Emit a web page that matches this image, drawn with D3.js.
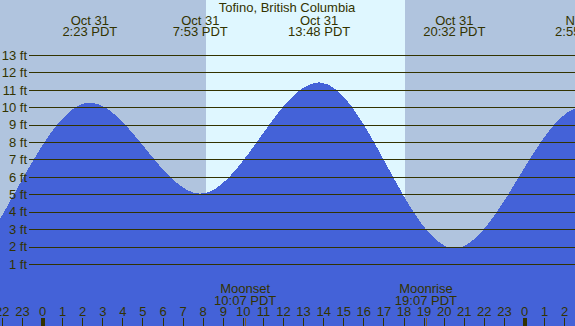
<!DOCTYPE html>
<html>
<head>
<meta charset="utf-8">
<script src="https://cdn.jsdelivr.net/npm/d3@7"></script>
<style>
  body { margin: 0; }
  svg { display: block; font-family: "Liberation Sans", Arial, sans-serif; }
</style>
</head>
<body>
<div id="chart"></div>
<script>
// tide extremes, hours from Oct 31 00:00 PDT, heights in ft
var tideTimes   = [-11.4, -5.0, 2.383, 7.883, 13.8, 20.533, 26.917, 33.2];
var tideHeights = [10.4, 0.1, 10.26, 5.04, 11.43, 1.9, 10.02, 4.8];

// header labels for the extremes that are on screen (index 2..6)
var eventDates = ["Oct 31", "Oct 31", "Oct 31", "Oct 31", "Nov 1"];
var eventTimes = ["2:23 PDT", "7:53 PDT", "13:48 PDT", "20:32 PDT", "2:55 PDT"];

// sun and moon
var sunrise = 8.167, sunset = 18.083;
var moonTimes = [10.117, 19.117];
var moonNames = ["Moonset", "Moonrise"];
var moonTimeLabels = ["10:07 PDT", "19:07 PDT"];

// axis ticks
var hourTicks = d3.range(-2, 27);
var feetTicks = d3.range(1, 14);

var width = 575, height = 326;
var ink = "#333300";

var svg = d3.select("#chart")
  .append("svg")
    .attr("width", width)
    .attr("height", height);

// hours -> px
var x = d3.scaleLinear()
  .domain([0, 24])
  .range([42, 524]);

// feet -> px
var y = d3.scaleLinear()
  .domain([0, 13])
  .range([281.4, 55]);

// night / day background
svg.append("rect")
  .attr("x", 0).attr("y", 0)
  .attr("width", width).attr("height", height)
  .attr("fill", "#b0c4de");
svg.append("rect")
  .attr("x", Math.round(x(sunrise))).attr("y", 0)
  .attr("width", Math.round(x(sunset)) - Math.round(x(sunrise)))
  .attr("height", height)
  .attr("fill", "#dff7ff");

// tide area
var tideData = tideTimes.map(function(t, i) { return {t: t, h: tideHeights[i]}; });
var area = d3.area()
  .x(function(d) { return x(d.t); })
  .y0(height)
  .y1(function(d) { return y(d.h); })
  .curve(d3.curveMonotoneX);
svg.append("path")
  .datum(tideData)
  .attr("d", area)
  .attr("fill", "#4462d8")
  .attr("shape-rendering", "crispEdges");

// feet gridlines + labels
var yAxis = svg.append("g")
  .attr("transform", "translate(29,0)")
  .call(d3.axisLeft(y)
    .tickValues(feetTicks)
    .tickSize(-(width - 29))
    .tickPadding(2)
    .tickFormat(function(d) { return d + " ft"; }));
yAxis.select(".domain").remove();
yAxis.selectAll("line").attr("stroke", ink).attr("shape-rendering", "crispEdges");
yAxis.selectAll("text").attr("fill", ink).style("font-size", "13px")
  .style("font-family", "'Liberation Sans', Arial, sans-serif");

// hour ticks along the bottom
var xAxis = svg.append("g")
  .attr("transform", "translate(0," + height + ")")
  .call(d3.axisTop(x)
    .tickValues(hourTicks)
    .tickSize(8)
    .tickPadding(2)
    .tickFormat(function(d) { return ((d % 24) + 24) % 24; }));
xAxis.select(".domain").remove();
xAxis.selectAll("line")
  .attr("stroke", ink)
  .attr("stroke-width", function(d) { return d % 24 === 0 ? 4 : 1; })
  .attr("shape-rendering", "crispEdges");
xAxis.selectAll("text").attr("fill", ink).style("font-size", "13px")
  .style("font-family", "'Liberation Sans', Arial, sans-serif");

// moon event marks
svg.selectAll(".moonTick")
  .data(moonTimes)
  .enter()
  .append("line")
    .attr("x1", function(d) { return Math.round(x(d)) + 0.5; })
    .attr("x2", function(d) { return Math.round(x(d)) + 0.5; })
    .attr("y1", height - 8)
    .attr("y2", height)
    .attr("stroke", "#7a5a30");

var moon = svg.selectAll(".moonLabel")
  .data(moonTimes)
  .enter()
  .append("text")
    .attr("text-anchor", "middle")
    .attr("fill", ink)
    .style("font-size", "13px");
moon.append("tspan")
  .attr("x", function(d) { return x(d); })
  .attr("y", 292.5)
  .text(function(d, i) { return moonNames[i]; });
moon.append("tspan")
  .attr("x", function(d) { return x(d); })
  .attr("y", 304.5)
  .text(function(d, i) { return moonTimeLabels[i]; });

// title
svg.append("text")
  .attr("x", 287)
  .attr("y", 12)
  .attr("text-anchor", "middle")
  .attr("fill", ink)
  .style("font-size", "13px")
  .text("Tofino, British Columbia");

// high / low time labels
var shown = tideTimes.slice(2, 7);
var hdr = svg.selectAll(".evLabel")
  .data(shown)
  .enter()
  .append("text")
    .attr("text-anchor", "middle")
    .attr("fill", ink)
    .style("font-size", "13px");
hdr.append("tspan")
  .attr("x", function(d) { return x(d); })
  .attr("y", 24.5)
  .text(function(d, i) { return eventDates[i]; });
hdr.append("tspan")
  .attr("x", function(d) { return x(d); })
  .attr("y", 36)
  .text(function(d, i) { return eventTimes[i]; });
</script>
</body>
</html>
